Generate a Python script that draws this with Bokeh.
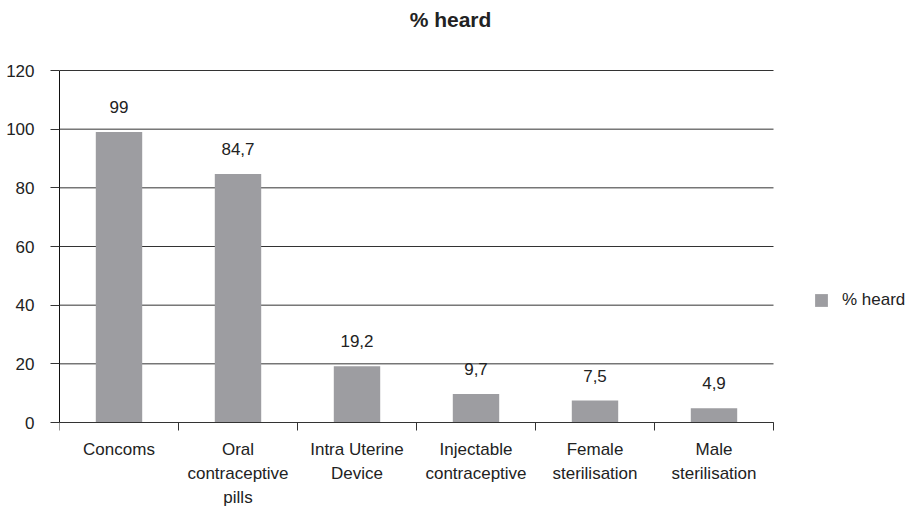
from bokeh.plotting import figure
from bokeh.models import (ColumnDataSource, FixedTicker, LabelSet, Label, Legend, LegendItem, Range1d)
from bokeh.core.properties import value
from bokeh.embed import file_html
from bokeh.resources import INLINE

categories = ["Concoms", "Oral\ncontraceptive\npills", "Intra Uterine\nDevice",
              "Injectable\ncontraceptive", "Female\nsterilisation", "Male\nsterilisation"]
values = [99, 84.7, 19.2, 9.7, 7.5, 4.9]
value_labels = ["99", "84,7", "19,2", "9,7", "7,5", "4,9"]
series_name = "% heard"
y_ticks = [0, 20, 40, 60, 80, 100, 120]

FONT = "Liberation Sans"
TXT = "#222222"
BAR = "#9d9da1"
LINE = "#333333"
FS = "17px"

W, H = 909, 508
LEFT = 59
TOP_PX = 70      # space above the value area
BOTTOM_PX = 86   # space below the value area
CAT_PX = 714     # pixel width of the category area
VAL_PX = 352     # pixel height of the 0..120 value area
n = len(categories)
y_max = y_ticks[-1]
frame_w = W - LEFT
px_per_unit = VAL_PX / y_max
x_end = n * frame_w / CAT_PX
y_start = -BOTTOM_PX / px_per_unit
y_end = y_max + TOP_PX / px_per_unit

xc = [i + 0.5 for i in range(n)]
src = ColumnDataSource(dict(x=xc, top=values, lab=value_labels))

p = figure(width=W, height=H, output_backend="svg", toolbar_location=None,
           x_range=Range1d(0, x_end), y_range=Range1d(y_start, y_end),
           min_border_left=LEFT, min_border_right=0, min_border_top=0, min_border_bottom=0)
p.outline_line_color = None
p.background_fill_color = "white"
p.border_fill_color = "white"
p.xgrid.visible = False
p.ygrid.visible = False

# horizontal grid lines restricted to the category area
grid_src = ColumnDataSource(dict(x0=[0] * len(y_ticks), x1=[n] * len(y_ticks), y=y_ticks))
p.segment(x0="x0", y0="y", x1="x1", y1="y", source=grid_src, line_color=LINE, line_width=1)

r = p.vbar(x="x", top="top", width=0.39, bottom=0, source=src, color=BAR, line_color=None)

p.add_layout(LabelSet(x="x", y="top", text="lab", source=src, text_align="center",
                      text_baseline="bottom", y_offset=19, text_font=value(FONT),
                      text_font_size=value(FS), text_color=value(TXT)))

# axes
p.yaxis.ticker = FixedTicker(ticks=y_ticks)
p.yaxis.bounds = (0, y_max)
p.yaxis.major_tick_in = 0
p.yaxis.major_tick_out = 9
p.yaxis.minor_tick_line_color = None
p.yaxis.major_tick_line_color = LINE
p.yaxis.axis_line_color = "#111111"
p.yaxis.major_label_standoff = 16
p.yaxis.major_label_text_font = FONT
p.yaxis.major_label_text_font_size = FS
p.yaxis.major_label_text_color = TXT

p.xaxis.fixed_location = 0
p.xaxis.ticker = FixedTicker(ticks=xc, minor_ticks=list(range(n + 1)))
p.xaxis.bounds = (0, n)
p.xaxis.major_label_overrides = {c: lab for c, lab in zip(xc, categories)}
p.xaxis.major_tick_in = 0
p.xaxis.major_tick_out = 0
p.xaxis.minor_tick_in = 0
p.xaxis.minor_tick_out = 8
p.xaxis.minor_tick_line_color = LINE
p.xaxis.axis_line_color = LINE
p.xaxis.major_label_standoff = 9
p.xaxis.major_label_text_font = FONT
p.xaxis.major_label_text_font_size = FS
p.xaxis.major_label_text_color = TXT
p.xaxis.major_label_text_line_height = 1.28

legend = Legend(items=[LegendItem(label=series_name, renderers=[r])],
                location=(754, 198), padding=0, margin=0, border_line_color=None,
                background_fill_alpha=0, glyph_width=16, glyph_height=16,
                label_standoff=13, label_text_font=FONT, label_text_font_size=FS,
                label_text_color=TXT)
p.add_layout(legend, "center")

p.add_layout(Label(x=391, y=489, x_units="screen", y_units="screen", text=series_name,
                   text_align="center", text_baseline="middle", text_font=FONT,
                   text_font_size="21px", text_font_style="bold", text_color=TXT))

open("out.html", "w").write(file_html(p, INLINE))
